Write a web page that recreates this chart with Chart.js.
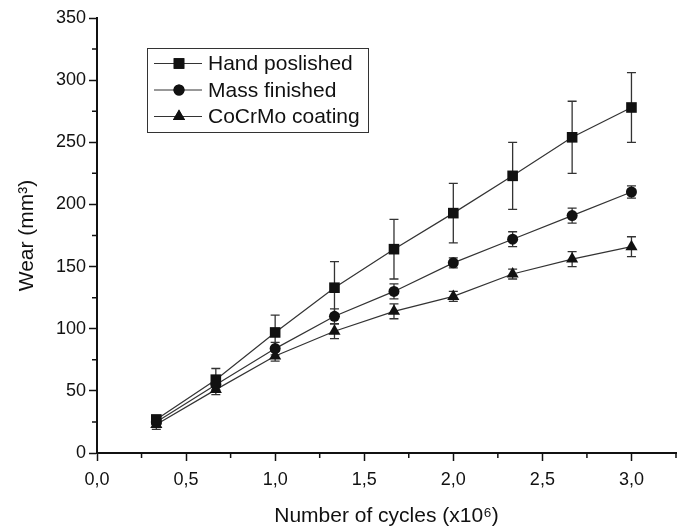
<!DOCTYPE html>
<html>
<head>
<meta charset="utf-8">
<script src="https://cdn.jsdelivr.net/npm/chart.js@4"></script>
<style>
  html, body { margin: 0; padding: 0; background: #fff; }
  #wrap { width: 686px; height: 526px; }
</style>
</head>
<body>
<div id="wrap"><canvas id="wearChart" width="686" height="526"></canvas></div>
<script>
// Datele graficului
const cycles = [0.333, 0.667, 1.0, 1.333, 1.667, 2.0, 2.333, 2.667, 3.0];
const seriesNames = ['Hand poslished', 'Mass finished', 'CoCrMo coating'];
const handPolished = [27, 59, 97, 133, 164, 193, 223, 254, 278];
const handErr = [3, 9, 14, 21, 24, 24, 27, 29, 28];
const massFinished = [25, 55, 84, 110, 130, 153, 172, 191, 210];
const massErr = [3, 4, 5, 6, 6, 4, 6, 6, 5];
const coating = [23, 51, 78, 98, 114, 126, 144, 156, 166];
const coatingErr = [4, 4, 4, 6, 6, 4, 4, 6, 8];
const xTicks = [0, 0.5, 1.0, 1.5, 2.0, 2.5, 3.0];
const yTicks = [0, 50, 100, 150, 200, 250, 300, 350];
const pointStyles = ['rect', 'circle', 'triangle'];
const pointSizes = [7.5, 5.5, 7];

const FONT = 'Liberation Sans, Arial, sans-serif';
const INK = '#111';

function toPoints(ys, errs) {
  return cycles.map((x, i) => ({ x: x, y: ys[i], err: errs[i] }));
}

// Bare de eroare desenate prin scalele Chart.js
const errorBars = {
  id: 'errorBars',
  beforeDatasetsDraw(chart) {
    const { ctx, scales: { x, y } } = chart;
    ctx.save();
    ctx.strokeStyle = '#333';
    ctx.lineWidth = 1.3;
    chart.data.datasets.forEach(ds => {
      ds.data.forEach(p => {
        const px = x.getPixelForValue(p.x);
        const top = y.getPixelForValue(p.y + p.err);
        const bot = y.getPixelForValue(p.y - p.err);
        ctx.beginPath();
        ctx.moveTo(px, top); ctx.lineTo(px, bot);
        ctx.moveTo(px - 4.5, top); ctx.lineTo(px + 4.5, top);
        ctx.moveTo(px - 4.5, bot); ctx.lineTo(px + 4.5, bot);
        ctx.stroke();
      });
    });
    ctx.restore();
  }
};

// Tick-uri minore + legenda in cadru
const extras = {
  id: 'extras',
  afterDraw(chart) {
    const { ctx, scales: { x, y } } = chart;
    ctx.save();
    ctx.strokeStyle = INK;
    ctx.lineWidth = 1.5;
    ctx.beginPath();
    for (let v = 0.25; v < 3.3; v += 0.5) {
      const px = x.getPixelForValue(v);
      ctx.moveTo(px, x.top); ctx.lineTo(px, x.top + 5);
    }
    for (let v = 25; v < 350; v += 50) {
      const py = y.getPixelForValue(v);
      ctx.moveTo(y.right, py); ctx.lineTo(y.right - 5, py);
    }
    ctx.stroke();

    // legenda
    const bx = 147, by = 48, bw = 221, bh = 84;
    ctx.lineWidth = 1;
    ctx.strokeStyle = '#333';
    ctx.strokeRect(bx + 0.5, by + 0.5, bw, bh);
    ctx.font = '21px ' + FONT;
    ctx.textBaseline = 'middle';
    ctx.fillStyle = INK;
    const rows = [63.5, 90, 116.5];
    chart.data.datasets.forEach((ds, i) => {
      const cy = rows[i];
      ctx.strokeStyle = '#333';
      ctx.lineWidth = 1;
      ctx.beginPath();
      ctx.moveTo(154, cy); ctx.lineTo(202, cy);
      ctx.stroke();
      ctx.fillStyle = INK;
      Chart.helpers.drawPoint(ctx, { pointStyle: ds.pointStyle, radius: ds.pointRadius, borderWidth: 0 }, 179, cy);
      ctx.fill();
      ctx.fillText(ds.label, 208, cy + 1);
    });
    ctx.restore();
  }
};

const datasets = [handPolished, massFinished, coating].map((ys, i) => ({
  label: seriesNames[i],
  data: toPoints(ys, [handErr, massErr, coatingErr][i]),
  borderColor: '#333',
  borderWidth: 1.2,
  backgroundColor: INK,
  pointBackgroundColor: INK,
  pointBorderColor: INK,
  pointBorderWidth: 0,
  pointStyle: pointStyles[i],
  pointRadius: pointSizes[i],
  pointHoverRadius: pointSizes[i],
  tension: 0,
  fill: false
}));

new Chart(document.getElementById('wearChart'), {
  type: 'line',
  data: { datasets: datasets },
  options: {
    responsive: false,
    animation: false,
    events: [],
    layout: { padding: { top: 18, right: 10, left: 0, bottom: 0 } },
    plugins: { legend: { display: false }, tooltip: { enabled: false } },
    scales: {
      x: {
        type: 'linear',
        min: 0,
        max: 3.25,
        afterBuildTicks: s => { s.ticks = xTicks.map(v => ({ value: v })); },
        afterFit: s => { s.height = 73; },
        grid: { drawOnChartArea: false, tickLength: 8, tickColor: INK, tickWidth: 1.5 },
        border: { color: INK, width: 2 },
        ticks: {
          color: INK,
          padding: 8,
          maxRotation: 0,
          font: { family: FONT, size: 18 },
          callback: v => v.toFixed(1).replace('.', ',')
        },
        title: {
          display: true,
          text: 'Number of cycles (x10\u2076)',
          color: INK,
          font: { family: FONT, size: 21, lineHeight: 0.9 },
          padding: { top: 6, bottom: 0 }
        }
      },
      y: {
        min: 0,
        max: 350,
        afterBuildTicks: s => { s.ticks = yTicks.map(v => ({ value: v })); },
        afterFit: s => { s.width = 97; },
        grid: { drawOnChartArea: false, tickLength: 8, tickColor: INK, tickWidth: 1.5 },
        border: { color: INK, width: 2 },
        ticks: {
          color: INK,
          padding: 3,
          font: { family: FONT, size: 18 }
        },
        title: {
          display: true,
          text: 'Wear (mm\u00b3)',
          color: INK,
          font: { family: FONT, size: 21 },
          padding: { top: 15, bottom: 4 }
        }
      }
    }
  },
  plugins: [errorBars, extras]
});
</script>
</body>
</html>
